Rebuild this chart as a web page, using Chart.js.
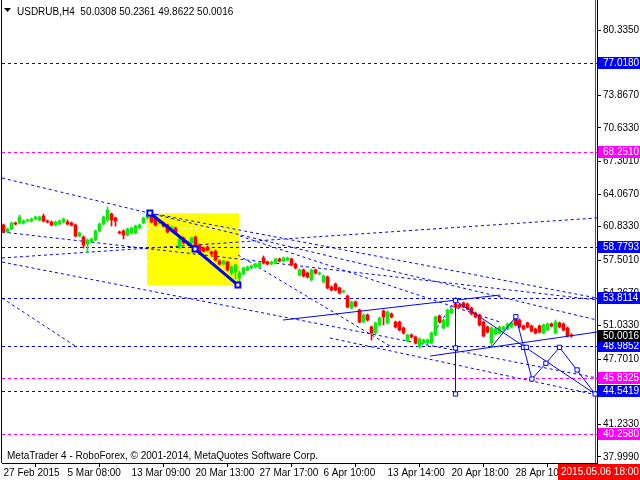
<!DOCTYPE html>
<html>
<head>
<meta charset="utf-8">
<script src="https://cdn.jsdelivr.net/npm/chart.js@4/dist/chart.umd.min.js"></script>
<style>
  html, body { margin: 0; padding: 0; background: #ffffff; }
  #wrap { width: 640px; height: 480px; }
</style>
</head>
<body>
<div id="wrap"><canvas id="c" width="640" height="480"></canvas></div>
<script>
// USDRUB H4 candles, one entry per bar (bar index = position on the time axis)
const opens = [61.00,60.31,60.61,61.20,61.20,61.20,61.40,61.40,61.60,61.50,61.89,61.40,61.30,61.00,61.10,61.30,61.30,61.20,61.00,59.91,
  59.81,59.12,59.32,59.51,60.41,61.10,61.50,62.09,61.70,60.31,60.41,60.01,60.21,60.21,60.70,61.20,61.70,61.99,61.70,61.20,
  61.20,61.00,60.51,60.70,58.82,59.71,59.32,59.22,59.81,59.02,58.72,58.82,58.32,58.42,57.43,57.13,57.33,56.24,56.34,55.75,
  56.14,56.54,56.74,56.84,56.84,57.73,57.33,57.13,57.23,57.63,57.43,57.53,57.63,57.13,56.04,56.54,56.24,55.55,56.54,56.14,
  55.35,55.85,54.85,55.15,54.76,54.36,53.96,52.77,53.37,52.57,51.38,52.08,50.89,50.29,51.09,52.47,51.29,52.18,51.38,51.38,
  50.79,49.50,50.10,49.90,48.91,49.30,49.30,49.30,50.10,51.98,50.79,50.99,52.28,53.17,53.07,53.27,53.17,52.77,52.28,52.08,
  51.38,50.89,49.30,50.19,50.29,50.59,50.69,50.89,51.78,51.58,50.99,51.29,50.99,50.69,50.99,50.29,50.59,51.19,50.29,51.29,
  51.19,50.79,50.0308];
const highs = [61.10,60.70,61.30,61.30,61.99,61.50,61.60,61.70,61.89,61.89,62.09,61.50,61.40,61.40,61.50,61.70,61.50,61.30,61.10,60.31,
  59.91,59.61,59.71,60.51,61.20,61.89,62.79,62.19,61.79,60.41,60.51,60.70,60.80,61.00,61.10,61.79,62.09,62.19,61.79,61.50,
  61.30,61.10,60.90,60.80,59.71,59.81,59.42,59.81,59.91,59.12,58.82,58.92,58.42,58.52,57.53,57.53,57.43,56.94,57.13,56.44,
  56.84,56.94,57.04,57.23,57.33,57.93,57.43,57.43,57.73,57.73,57.83,57.83,57.73,57.23,56.64,56.64,56.34,56.64,56.64,56.34,
  56.04,55.95,54.95,55.25,54.85,54.56,54.06,53.47,53.47,52.67,52.18,52.18,50.99,51.38,51.88,52.57,52.47,52.28,51.48,51.48,
  50.89,50.19,50.19,50.00,49.80,49.70,49.70,50.39,51.98,52.08,51.68,52.67,52.77,53.81,53.17,53.37,53.27,52.87,52.38,52.18,
  51.48,50.99,50.89,50.79,50.99,50.99,51.29,51.38,51.88,51.68,51.09,51.38,51.09,50.79,51.09,51.19,51.29,51.29,51.58,51.38,
  51.29,50.89,50.2361];
const lows = [60.21,60.21,60.51,61.00,61.10,61.10,61.30,61.30,61.50,61.40,61.30,61.20,60.90,60.90,61.00,61.20,61.00,60.90,59.81,59.81,
  58.72,58.23,59.22,59.42,60.31,61.00,61.30,60.90,60.90,60.11,59.61,59.91,60.11,60.11,60.61,61.10,61.60,61.20,60.90,61.10,
  60.80,60.21,60.41,60.11,58.62,59.12,59.12,59.12,58.72,58.23,58.32,58.42,58.03,57.43,57.04,57.04,56.44,56.04,55.65,55.05,
  56.04,56.44,56.64,56.74,56.74,57.13,57.04,57.04,57.13,57.33,57.33,57.43,56.94,56.64,55.95,55.85,55.75,55.45,56.14,56.04,
  55.25,54.66,54.46,54.46,54.16,54.26,52.77,52.67,52.87,51.29,51.29,51.48,49.60,50.19,50.99,51.09,51.19,51.78,50.79,50.49,
  50.19,49.40,49.80,49.20,48.81,49.20,49.20,49.20,50.00,51.29,50.69,50.89,52.18,52.77,52.77,52.77,52.57,52.08,51.78,50.99,
  49.90,50.29,48.91,50.10,50.19,50.49,50.59,50.79,50.99,50.79,50.59,50.79,50.39,50.19,50.29,50.19,50.49,50.89,50.19,50.79,
  50.49,49.90,49.8622];
const closes = [60.31,60.61,61.20,61.10,61.79,61.40,61.50,61.60,61.79,61.79,61.40,61.30,61.00,61.30,61.40,61.60,61.10,61.00,59.91,60.21,
  59.02,59.51,59.61,60.41,61.10,61.79,62.49,61.50,61.40,60.21,60.01,60.61,60.70,60.90,61.00,61.70,61.99,61.30,61.00,61.40,
  60.90,60.31,60.80,60.21,59.61,59.22,59.22,59.71,58.82,58.32,58.42,58.52,58.13,57.53,57.13,57.43,56.54,56.84,57.04,56.24,
  56.74,56.84,56.94,57.13,57.23,57.23,57.13,57.33,57.63,57.43,57.73,57.73,57.04,56.74,56.54,55.95,55.85,56.54,56.24,56.24,
  55.95,54.76,54.56,54.56,54.26,54.46,52.87,53.37,52.97,51.38,52.08,51.58,50.29,51.29,51.78,51.88,52.38,51.88,50.89,50.59,
  50.29,50.10,49.90,49.30,49.70,49.60,49.60,50.29,51.88,51.38,51.58,52.57,52.67,52.87,52.87,52.87,52.67,52.18,51.88,51.09,
  50.00,50.39,50.79,50.69,50.89,50.89,51.19,51.29,51.09,50.89,50.69,50.89,50.49,50.29,50.39,51.09,51.19,50.99,51.38,50.89,
  50.59,50.03,50.0016];

// time axis labels and the bar each one sits on
const timeTickBars = [0, 16, 32, 48, 64, 80, 96, 112, 128];
const timeTickLabels = ['27 Feb 2015', '5 Mar 08:00', '13 Mar 09:00', '20 Mar 13:00', '27 Mar 17:00',
  '6 Apr 10:00', '13 Apr 14:00', '20 Apr 18:00', '28 Apr 10:00'];
const futureBar = 147.9;            // 2015.05.06 18:00 marker
const futureLabel = '2015.05.06 18:00';

// price scale
const priceTicks = [80.335, 77.101, 73.867, 70.633, 67.301, 64.067, 60.833, 57.501, 54.267,
  51.033, 47.701, 44.467, 41.233, 37.999];
const priceMin = 37.404, priceMax = 83.3095;
const barMin = -0.375, barMax = 148.375;

// horizontal levels
const blueLevels = [77.018, 58.7793, 53.8114, 48.9852, 44.5419];
const magentaLevels = [68.251, 45.8325, 40.258];
const lastPrice = 50.0016;
const quote = ['50.0308', '50.2361', '49.8622', '50.0016'];

// highlighted box (bar from/to, price top/bottom) and its inner levels
const boxBars = [35.9, 58.9];
const boxPrices = [62.16, 55.05];
const boxInnerLevels = [60.70, 57.43];

// thick decline inside the box: [bar, price]
const declineBars = [36.6, 47.9, 58.6];
const declinePrices = [62.19, 58.62, 55.05];

// dashed trend lines: [bar1, price1, bar2, price2]
const dashedTrends = [
  [-0.375, 65.66, 148.375, 51.58],
  [-0.375, 57.73, 148.375, 61.70],
  [-0.375, 60.31, 148.375, 53.57],
  [-0.375, 53.76, 17.9, 49.01],
  [-0.375, 57.33, 148.375, 45.83],
  [36.6, 62.19, 148.375, 53.76],
  [58.6, 58.03, 96.6, 49.01],
  [59.1, 59.91, 124.1, 51.38],
  [81.6, 49.80, 148.375, 44.15],
  [105.9, 49.30, 112.9, 53.57]
];
// solid trend lines
const solidTrends = [
  [69.9, 51.58, 124.2, 54.06],
  [106.7, 48.01, 148.375, 50.39],
  [113.0, 53.50, 113.0, 44.25],
  [113.0, 53.50, 147.9, 44.25]
];
// projected path
const pathBars = [122.1, 128.1, 132.1, 135.6, 139.0, 147.9];
const pathPrices = [48.93, 51.91, 45.73, 47.29, 48.87, 44.25];
// anchor squares
const anchorBars = [113.0, 113.0, 113.0, 128.1, 130.0, 130.7, 132.1, 135.6, 139.0, 143.4, 147.9];
const anchorPrices = [53.50, 48.81, 44.25, 51.91, 48.87, 48.87, 45.73, 47.29, 48.87, 46.63, 44.25];

const BLUE = '#0000ff', MAGENTA = '#ff00ff', BULL = '#10e810', BEAR = '#ff0000';
const FONT = 'Liberation Sans, Arial, sans-serif';
const DASH = [3, 3];

const segment = (x1, y1, x2, y2) => [{ x: x1, y: y1 }, { x: x2, y: y2 }];
const lineSet = (data, color, dash, width, order) => ({
  type: 'line', data, borderColor: color, borderWidth: width, borderDash: dash,
  pointRadius: 0, tension: 0, fill: false, order, borderCapStyle: 'butt'
});

const datasets = [];
dashedTrends.forEach(t => datasets.push(lineSet(segment(t[0], t[1], t[2], t[3]), BLUE, DASH, 1, 55)));

const candleColor = closes.map((c, i) => c >= opens[i] ? BULL : BEAR);
datasets.push({
  type: 'bar', order: 40, grouped: false, barThickness: 1,
  data: opens.map((o, i) => ({ x: i, y: [lows[i], highs[i]] })),
  backgroundColor: candleColor, borderWidth: 0
});
datasets.push({
  type: 'bar', order: 39, grouped: false, barThickness: 3, minBarLength: 1,
  data: opens.map((o, i) => ({ x: i, y: [o, closes[i]] })),
  backgroundColor: candleColor, borderWidth: 0
});

solidTrends.forEach(t => datasets.push(lineSet(segment(t[0], t[1], t[2], t[3]), BLUE, [], 1, 20)));
datasets.push(lineSet(pathBars.map((b, i) => ({ x: b, y: pathPrices[i] })), BLUE, [], 1, 20));
datasets.push({
  type: 'line', order: 10, data: declineBars.map((b, i) => ({ x: b, y: declinePrices[i] })),
  borderColor: BLUE, borderWidth: 3, tension: 0, fill: false,
  pointStyle: 'rect', pointRadius: 3.5, pointBorderWidth: 2, pointBorderColor: BLUE, pointBackgroundColor: '#ffffff'
});
datasets.push({
  type: 'line', order: 5, showLine: false, data: anchorBars.map((b, i) => ({ x: b, y: anchorPrices[i] })),
  pointStyle: 'rect', pointRadius: 3, pointBorderWidth: 1, pointBorderColor: BLUE, pointBackgroundColor: '#ffffff'
});

// yellow box, price levels and the time marker, all underneath the candles
const backdropPlugin = {
  id: 'backdrop',
  beforeDatasetsDraw(chart) {
    const { ctx, chartArea: a, scales: { x, y } } = chart;
    const x1 = x.getPixelForValue(boxBars[0]), x2 = x.getPixelForValue(boxBars[1]);
    const y1 = y.getPixelForValue(boxPrices[0]), y2 = y.getPixelForValue(boxPrices[1]);
    ctx.save();
    ctx.fillStyle = '#ffff00';
    ctx.fillRect(x1, y1, x2 - x1, y2 - y1);
    ctx.lineWidth = 1;
    ctx.setLineDash(DASH);
    ctx.strokeStyle = '#ffffff';
    boxInnerLevels.forEach(v => {
      const py = Math.round(y.getPixelForValue(v)) + 0.5;
      ctx.beginPath(); ctx.moveTo(x1, py); ctx.lineTo(x2, py); ctx.stroke();
    });
    const level = (v, color) => {
      const py = Math.round(y.getPixelForValue(v)) + 0.5;
      ctx.strokeStyle = color;
      ctx.beginPath(); ctx.moveTo(a.left, py); ctx.lineTo(a.right, py); ctx.stroke();
    };
    blueLevels.forEach(v => level(v, BLUE));
    magentaLevels.forEach(v => level(v, MAGENTA));
    ctx.setLineDash([]);
    ctx.strokeStyle = '#ff0000';
    const fx = Math.round(x.getPixelForValue(futureBar)) + 0.5;
    ctx.beginPath(); ctx.moveTo(fx, a.top); ctx.lineTo(fx, a.bottom); ctx.stroke();
    ctx.restore();
  }
};

// frame, price/time tags and captions
const overlayPlugin = {
  id: 'overlay',
  afterDraw(chart) {
    const { ctx, chartArea: a, scales: { x, y } } = chart;
    ctx.save();
    ctx.strokeStyle = '#000000';
    ctx.lineWidth = 1;
    ctx.beginPath();
    ctx.moveTo(a.left - 0.5, a.top); ctx.lineTo(a.left - 0.5, a.bottom);
    ctx.stroke();

    ctx.font = '10px ' + FONT;
    ctx.textBaseline = 'middle';
    const tag = (v, bg, text) => {
      const py = Math.round(y.getPixelForValue(v));
      ctx.fillStyle = bg;
      ctx.fillRect(a.right + 1, py - 6, 640 - a.right - 1, 12);
      ctx.fillStyle = '#ffffff';
      ctx.textAlign = 'left';
      ctx.fillText(text, a.right + 6, py + 0.5);
    };
    blueLevels.forEach(v => tag(v, BLUE, v.toFixed(4)));
    magentaLevels.forEach(v => tag(v, MAGENTA, v.toFixed(4)));
    tag(lastPrice, '#000000', lastPrice.toFixed(4));

    const fx = Math.round(x.getPixelForValue(futureBar)) - 37;
    ctx.fillStyle = '#ff0000';
    ctx.fillRect(fx, a.bottom + 1, 640 - fx, 480 - a.bottom - 1);
    ctx.fillStyle = '#ffffff';
    ctx.fillText(futureLabel, fx + 3, a.bottom + 9);

    ctx.fillStyle = '#000000';
    ctx.beginPath();
    ctx.moveTo(4, 8); ctx.lineTo(11, 8); ctx.lineTo(7.5, 12); ctx.closePath(); ctx.fill();
    ctx.textBaseline = 'alphabetic';
    ctx.fillText('USDRUB,H4  ' + quote.join(' '), 17, 15);
    ctx.fillText('MetaTrader 4 - RoboForex, \u00a9 2001-2014, MetaQuotes Software Corp.', 7, 459);
    ctx.restore();
  }
};

new Chart(document.getElementById('c'), {
  type: 'bar',
  data: { datasets },
  options: {
    responsive: false,
    devicePixelRatio: 1,
    animation: false,
    events: [],
    layout: { padding: { left: 2, top: 0, right: 0, bottom: 0 }, autoPadding: false },
    plugins: { legend: { display: false }, tooltip: { enabled: false } },
    scales: {
      x: {
        type: 'linear', position: 'bottom', min: barMin, max: barMax, offset: false,
        afterBuildTicks: s => { s.ticks = timeTickBars.map(v => ({ value: v })); },
        afterFit: s => { s.height = 17; s.paddingLeft = 0; s.paddingRight = 0; },
        grid: { drawOnChartArea: false, drawTicks: true, tickLength: 4, color: '#000000' },
        border: { display: true, color: '#000000' },
        ticks: {
          autoSkip: false, maxRotation: 0, align: 'start', padding: 0, color: '#000000',
          font: { family: FONT, size: 10 },
          callback: v => timeTickLabels[timeTickBars.indexOf(v)]
        }
      },
      y: {
        type: 'linear', position: 'right', min: priceMin, max: priceMax,
        afterBuildTicks: s => { s.ticks = priceTicks.map(v => ({ value: v })); },
        afterFit: s => { s.width = 43; s.paddingTop = 0; s.paddingBottom = 0; },
        grid: { drawOnChartArea: false, drawTicks: true, tickLength: 4, color: '#000000' },
        border: { display: true, color: '#000000' },
        ticks: {
          padding: 2, color: '#000000', font: { family: FONT, size: 10 },
          callback: v => v.toFixed(4)
        }
      }
    }
  },
  plugins: [backdropPlugin, overlayPlugin]
});
</script>
</body>
</html>
